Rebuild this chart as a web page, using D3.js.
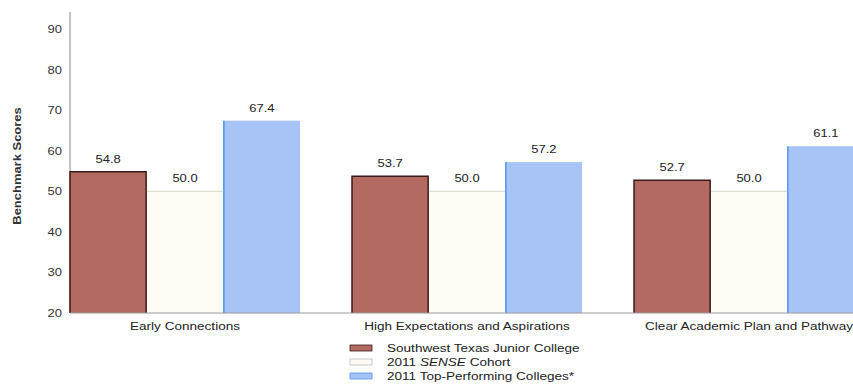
<!DOCTYPE html>
<html>
<head>
<meta charset="utf-8">
<script src="https://cdn.jsdelivr.net/npm/d3@7"></script>
<style>
  body { margin: 0; background: #fff; }
  text { font-family: Arial, "Liberation Sans", sans-serif; fill: #222; }
</style>
</head>
<body>
<svg id="chart"></svg>
<script>
var categories = ["Early Connections", "High Expectations and Aspirations", "Clear Academic Plan and Pathway"];
var seriesNames = ["Southwest Texas Junior College", "2011 SENSE Cohort", "2011 Top-Performing Colleges*"];
var college = [54.8, 53.7, 52.7];
var cohort = [50.0, 50.0, 50.0];
var topColleges = [67.4, 57.2, 61.1];
var yTicks = [20, 30, 40, 50, 60, 70, 80, 90];

var width = 853, height = 385;
var colors = ["#b36a60", "#fffcf3", "#a8c4f6"];
var strokes = ["#3b1c1c", "#d8d4c8", "#4d93f2"];
var stretch = 1.18;

var svg = d3.select("#chart")
    .attr("width", width)
    .attr("height", height);

var y = d3.scaleLinear()
    .domain([20, 90])
    .range([313, 29]);

var x = d3.scaleBand()
    .domain(categories)
    .range([70, 864])
    .paddingInner(52 / 282)
    .paddingOuter(0);

var xs = d3.scaleBand()
    .domain([0, 1, 2])
    .range([0, x.bandwidth()])
    .paddingInner(0.01);

var rows = categories.map(function (c, i) {
    return { cat: c, values: [college[i], cohort[i], topColleges[i]] };
});

// text in the scan looks horizontally stretched
function placeText(sel, px, py) {
    sel.attr("transform", function (d, i) {
        return "translate(" + px(d, i) + "," + py(d, i) + ") scale(" + stretch + ",1)";
    });
}

// y axis
yTicks.forEach(function (t) {
    svg.append("text")
        .attr("transform", "translate(62," + (y(t) + 4) + ") scale(" + stretch + ",1)")
        .attr("text-anchor", "end")
        .style("font-size", "11px")
        .style("fill", "#333")
        .text(t);
});

svg.append("line")
    .attr("x1", 70).attr("x2", 70)
    .attr("y1", 12).attr("y2", y(20))
    .attr("stroke", "#8a8a8a");

svg.append("text")
    .attr("transform", "translate(21,166) rotate(-90) scale(" + stretch + ",1)")
    .attr("text-anchor", "middle")
    .style("font-size", "11px")
    .style("font-weight", "bold")
    .style("fill", "#333")
    .text("Benchmark Scores");

// bars
var groups = svg.selectAll(".group")
    .data(rows)
    .enter()
    .append("g")
    .attr("class", "group")
    .attr("transform", d => "translate(" + x(d.cat) + ",0)");

groups.selectAll("rect")
    .data(d => d.values.map((v, i) => ({ v: v, i: i })))
    .enter()
    .append("rect")
    .attr("x", d => xs(d.i))
    .attr("y", d => y(d.v))
    .attr("width", xs.bandwidth())
    .attr("height", d => y(20) - y(d.v))
    .attr("fill", d => colors[d.i]);

// side borders for brown and blue bars, top line on cream bar
groups.selectAll(".edge")
    .data(d => d.values.map((v, i) => ({ v: v, i: i })))
    .enter()
    .append("path")
    .attr("class", "edge")
    .attr("fill", "none")
    .attr("stroke", d => strokes[d.i])
    .attr("stroke-width", d => d.i === 1 ? 1 : 1.5)
    .attr("d", function (d) {
        var x0 = xs(d.i), x1 = xs(d.i) + xs.bandwidth();
        if (d.i === 1) return "M" + x0 + "," + y(d.v) + "H" + x1;
        if (d.i === 0) return "M" + x0 + "," + y(20) + "V" + y(d.v) + "H" + x1 + "V" + y(20);
        return "M" + x0 + "," + y(20) + "V" + y(d.v);
    });

var vals = groups.selectAll(".val")
    .data(d => d.values.map((v, i) => ({ v: v, i: i })))
    .enter()
    .append("text")
    .attr("class", "val")
    .attr("text-anchor", "middle")
    .style("font-size", "11px")
    .text(d => d.v.toFixed(1));
placeText(vals, d => xs(d.i) + xs.bandwidth() / 2, d => y(d.v) - 9);

// baseline
svg.append("line")
    .attr("x1", 70).attr("x2", width)
    .attr("y1", y(20)).attr("y2", y(20))
    .attr("stroke", "#9a9a9a");

// category labels
var cats = svg.selectAll(".cat")
    .data(categories)
    .enter()
    .append("text")
    .attr("class", "cat")
    .attr("text-anchor", "middle")
    .style("font-size", "11.5px")
    .text(d => d);
placeText(cats, d => x(d) + x.bandwidth() / 2, () => 330);

// legend
var legend = svg.selectAll(".legend")
    .data(seriesNames)
    .enter()
    .append("g")
    .attr("class", "legend")
    .attr("transform", (d, i) => "translate(350," + (348 + i * 14) + ")");

legend.append("rect")
    .attr("x", 0).attr("y", -3)
    .attr("width", 22).attr("height", 6)
    .attr("fill", (d, i) => colors[i])
    .attr("stroke", (d, i) => i === 1 ? "#bbb" : strokes[i])
    .attr("stroke-width", 0.8);

var lt = legend.append("text")
    .attr("text-anchor", "start")
    .style("font-size", "11.5px");
placeText(lt, () => 37, () => 4);
lt.each(function (d) {
    var t = d3.select(this);
    if (d.indexOf("SENSE") >= 0) {
        t.append("tspan").text("2011 ");
        t.append("tspan").style("font-style", "italic").text("SENSE");
        t.append("tspan").text(" Cohort");
    } else {
        t.text(d);
    }
});
</script>
</body>
</html>
